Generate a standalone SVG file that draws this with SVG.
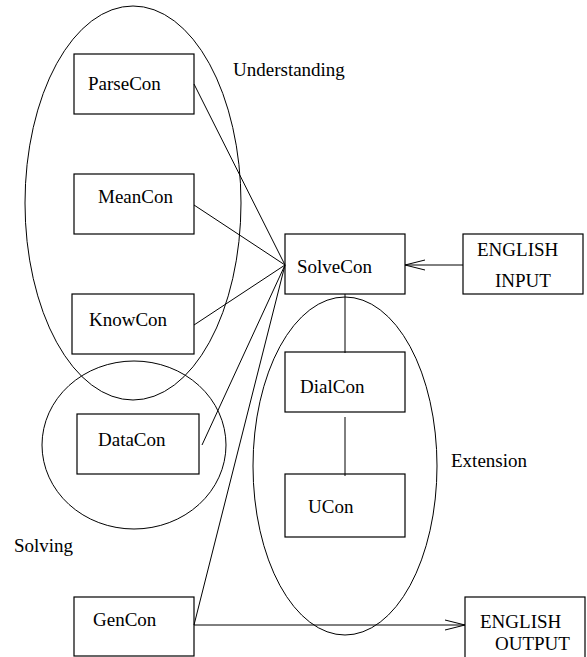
<svg xmlns="http://www.w3.org/2000/svg" width="587" height="657" viewBox="0 0 587 657">
<defs>
<style>
.b{fill:none;stroke:#000;stroke-width:1.2}
.c{fill:none;stroke:#000;stroke-width:1}
text{font-family:"Liberation Serif","Times New Roman",serif;font-size:19px;fill:#000}
</style>
<marker id="ah" markerWidth="22" markerHeight="12" refX="21" refY="6" orient="auto" markerUnits="userSpaceOnUse">
<path d="M1,1 L21,6 L1,11" fill="none" stroke="#000" stroke-width="1"/>
</marker>
</defs>
<rect width="587" height="657" fill="#fff"/>
<g id="groups">
<ellipse id="understanding" class="c" cx="133" cy="203" rx="108" ry="197"/>
<ellipse id="solving" class="c" cx="134" cy="445" rx="92" ry="84"/>
<ellipse id="extension" class="c" cx="345" cy="466" rx="92" ry="169"/>
<text x="233" y="76">Understanding</text>
<text x="14" y="552">Solving</text>
<text x="451" y="467">Extension</text>
</g>
<g id="connectors">
<line class="c" x1="194" y1="84" x2="285" y2="265"/>
<line class="c" x1="194" y1="205" x2="285" y2="265"/>
<line class="c" x1="194" y1="325" x2="285" y2="265"/>
<line class="c" x1="202" y1="445" x2="285" y2="265"/>
<line class="c" x1="194" y1="625" x2="285" y2="265"/>
<line class="c" x1="463" y1="265" x2="405" y2="265" marker-end="url(#ah)"/>
<line class="c" x1="345" y1="294" x2="345" y2="353"/>
<line class="c" x1="345" y1="417" x2="345" y2="476"/>
<line class="c" x1="194" y1="625" x2="465" y2="625" marker-end="url(#ah)"/>
</g>
<g id="ParseCon"><rect class="b" x="74" y="54" width="120" height="60"/><text x="88" y="90">ParseCon</text></g>
<g id="MeanCon"><rect class="b" x="74" y="174" width="120" height="60"/><text x="98" y="203">MeanCon</text></g>
<g id="KnowCon"><rect class="b" x="72" y="294" width="122" height="60"/><text x="89" y="326">KnowCon</text></g>
<g id="DataCon"><rect class="b" x="77" y="414" width="122" height="60"/><text x="98" y="446">DataCon</text></g>
<g id="GenCon"><rect class="b" x="74" y="597" width="120" height="59"/><text x="93" y="626">GenCon</text></g>
<g id="SolveCon"><rect class="b" x="285" y="234" width="120" height="60"/><text x="297" y="273">SolveCon</text></g>
<g id="EnglishInput"><rect class="b" x="463" y="234" width="120" height="60"/><text x="477" y="256">ENGLISH</text><text x="495" y="287">INPUT</text></g>
<g id="DialCon"><rect class="b" x="285" y="352" width="120" height="60"/><text x="300" y="393">DialCon</text></g>
<g id="UCon"><rect class="b" x="285" y="474" width="120" height="63"/><text x="308" y="513">UCon</text></g>
<g id="EnglishOutput"><rect class="b" x="465" y="597" width="120" height="62"/><text x="480" y="628">ENGLISH</text><text x="495" y="650">OUTPUT</text></g>
</svg>
